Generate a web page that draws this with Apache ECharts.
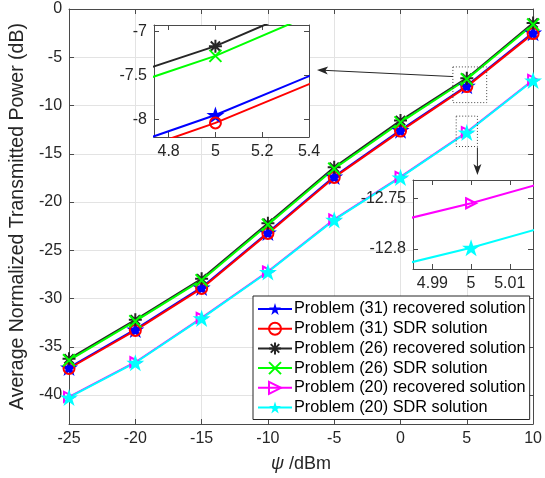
<!DOCTYPE html>
<html lang="en">
<head>
<meta charset="UTF-8">
<script src="https://cdn.jsdelivr.net/npm/echarts@6/dist/echarts.min.js"></script>
<style>
    html, body { margin: 0; padding: 0; background: #fff; }
    #main { width: 545px; height: 478px; }
</style>
<title>power vs psi</title>
</head>
<body>
<div id="main"></div>
<script type="text/javascript">
    // x values (dBm)
    var psi = [-25, -20, -15, -10, -5, 0, 5, 10];
    // series values (dB)
    var p31Rec = [-37.15, -33.2, -28.85, -23.15, -17.35, -12.55, -7.95, -2.45];
    var p31Sdr = [-37.25, -33.3, -28.95, -23.25, -17.45, -12.65, -8.04, -2.55];
    var p26Rec = [-36.25, -32.2, -27.95, -22.2, -16.4, -11.55, -7.17, -1.45];
    var p26Sdr = [-36.4, -32.35, -28.1, -22.35, -16.55, -11.75, -7.28, -1.6];
    var p20Rec = [-40.2, -36.6, -32.0, -27.2, -21.8, -17.4, -12.755, -7.35];
    var p20Sdr = [-40.25, -36.65, -32.05, -27.25, -21.85, -17.45, -12.799, -7.4];
    var names = ['Problem (31) recovered solution', 'Problem (31) SDR solution',
        'Problem (26) recovered solution', 'Problem (26) SDR solution',
        'Problem (20) recovered solution', 'Problem (20) SDR solution'];
    // tick labels
    var xTicks = [-25, -20, -15, -10, -5, 0, 5, 10];
    var yTicks = [-40, -35, -30, -25, -20, -15, -10, -5, 0];
    var in1XTicks = [4.8, 5, 5.2, 5.4];
    var in1YTicks = [-8, -7.5, -7];
    var in2XTicks = [4.99, 5, 5.01];
    var in2YTicks = [-12.8, -12.75];
    // zoom boxes in main data units [x0, x1, yTop, yBottom]
    var box1 = [3.95, 6.5, -6.0, -9.7];
    var box2 = [4.2, 5.8, -11.1, -14.25];

    var FONT = 'Liberation Sans';
    var AX = '#4a4a4a';
    var STAR = 'path://M50,0L61.2,34.5L97.6,34.5L68.2,55.9L79.4,90.5L50,69.1L20.6,90.5L31.8,55.9L2.4,34.5L38.8,34.5Z';
    var ASTER = 'path://M10,0L10,20M0,10L20,10M2.9,2.9L17.1,17.1M17.1,2.9L2.9,17.1';
    var CROSS = 'path://M0,0L20,20M20,0L0,20';
    var TRI = 'path://M0,0L20,10L0,20Z';

    var styles = [
        {color: '#0000ff', symbol: STAR, size: 18, filled: true},
        {color: '#ff0000', symbol: 'circle', size: 11, filled: false},
        {color: '#262626', symbol: ASTER, size: 13, filled: false},
        {color: '#00ff00', symbol: CROSS, size: 12, filled: false},
        {color: '#ff00ff', symbol: TRI, size: 10, filled: false},
        {color: '#00ffff', symbol: STAR, size: 18, filled: true}
    ];
    var values = [p31Rec, p31Sdr, p26Rec, p26Sdr, p20Rec, p20Sdr];

    function pairs(ys) {
        var out = [];
        for (var i = 0; i < psi.length; i++) out.push([psi[i], ys[i]]);
        return out;
    }

    function makeSeries(k, axisIdx, zl) {
        var s = styles[k];
        var item = s.filled ? {color: s.color} :
            {color: 'rgba(0,0,0,0)', borderColor: s.color, borderWidth: 2};
        return {
            name: names[k],
            type: 'line',
            xAxisIndex: axisIdx,
            yAxisIndex: axisIdx,
            zlevel: zl,
            data: pairs(values[k]),
            symbol: s.symbol,
            symbolSize: s.size,
            symbolKeepAspect: true,
            showAllSymbol: true,
            lineStyle: {color: s.color, width: 2},
            itemStyle: item,
            emphasis: {disabled: true},
            clip: true
        };
    }

    function boxAxis(pos, grid, min, max, ticks, showLabel, zl, extra) {
        var a = {
            type: 'value',
            gridIndex: grid,
            position: pos,
            min: min,
            max: max,
            zlevel: zl,
            axisLine: {show: true, onZero: false, lineStyle: {color: AX, width: 1}},
            axisTick: {show: true, inside: true, length: 5, customValues: ticks, lineStyle: {color: AX}},
            axisLabel: {show: showLabel, customValues: ticks, fontSize: 16, fontFamily: FONT, color: '#262626', margin: 7},
            splitLine: {show: false}
        };
        for (var key in extra) a[key] = extra[key];
        return a;
    }

    var chartDom = document.getElementById('main');
    var myChart = echarts.init(chartDom, null, {renderer: 'canvas'});

    var series = [];
    for (var k = 0; k < 6; k++) series.push(makeSeries(k, 0, 0));
    for (var k = 0; k < 4; k++) series.push(makeSeries(k, 2, 1));
    for (var k = 4; k < 6; k++) series.push(makeSeries(k, 4, 1));

    var option = {
        animation: false,
        backgroundColor: '#fff',
        grid: [
            {left: 59, top: 9, width: 479, height: 419, show: false},
            {left: 154, top: 25, width: 155, height: 112, show: true, backgroundColor: '#fff', borderWidth: 0, zlevel: 1},
            {left: 413, top: 180, width: 120, height: 89, show: true, backgroundColor: '#fff', borderWidth: 0, zlevel: 1}
        ],
        xAxis: [
            boxAxis('bottom', 0, -25, 10, xTicks, true, 0, {
                splitLine: {show: true, lineStyle: {color: '#e3e3e3'}},
                interval: 5,
                name: '{i|ψ} /dBm', nameLocation: 'middle', nameGap: 31,
                nameTextStyle: {fontSize: 18, fontFamily: FONT, color: '#262626',
                    rich: {i: {fontStyle: 'italic', fontSize: 18, fontFamily: FONT, color: '#262626'}}}
            }),
            boxAxis('top', 0, -25, 10, xTicks, false, 0, {interval: 5}),
            boxAxis('bottom', 1, 4.7375, 5.4, in1XTicks, true, 1, {}),
            boxAxis('top', 1, 4.7375, 5.4, in1XTicks, false, 1, {}),
            boxAxis('bottom', 2, 4.985, 5.016, in2XTicks, true, 1, {}),
            boxAxis('top', 2, 4.985, 5.016, in2XTicks, false, 1, {})
        ],
        yAxis: [
            boxAxis('left', 0, -43, 0, yTicks, true, 0, {
                splitNumber: 9,
                splitLine: {show: true, lineStyle: {color: '#e3e3e3'}},
                name: 'Average Normalized Transmitted Power (dB)', nameLocation: 'middle', nameGap: 37,
                nameTextStyle: {fontSize: 19.5, fontFamily: FONT, color: '#262626'}
            }),
            boxAxis('right', 0, -43, 0, yTicks, false, 0, {splitNumber: 9}),
            boxAxis('left', 1, -8.2, -6.93, in1YTicks, true, 1, {}),
            boxAxis('right', 1, -8.2, -6.93, in1YTicks, false, 1, {}),
            boxAxis('left', 2, -12.82, -12.732, in2YTicks, true, 1, {}),
            boxAxis('right', 2, -12.82, -12.732, in2YTicks, false, 1, {})
        ],
        legend: {
            orient: 'vertical',
            left: 253,
            top: 296,
            padding: [5, 4, 4, 4],
            itemWidth: 34,
            itemHeight: 15,
            itemGap: 3.7,
            backgroundColor: '#fff',
            borderColor: '#262626',
            borderWidth: 1,
            z: 10,
            textStyle: {fontSize: 16.3, fontFamily: FONT, color: '#000', padding: [0, 0, 0, -3]},
            data: names
        },
        series: series
    };
    option && myChart.setOption(option);

    // zoom boxes and arrows, placed through the chart's own scales
    function arrow(a, b) {
        var dx = b[0] - a[0], dy = b[1] - a[1];
        var L = Math.sqrt(dx * dx + dy * dy), ux = dx / L, uy = dy / L, px = -uy, py = ux;
        var hl = 11, hw = 4;
        return [
            {type: 'line', zlevel: 1, z: 100, shape: {x1: a[0], y1: a[1], x2: b[0] - ux * 5, y2: b[1] - uy * 5},
                style: {stroke: '#262626', lineWidth: 1}},
            {type: 'polygon', zlevel: 1, z: 100, shape: {points: [
                [b[0], b[1]],
                [b[0] - ux * hl + px * hw, b[1] - uy * hl + py * hw],
                [b[0] - ux * hl * 0.75, b[1] - uy * hl * 0.75],
                [b[0] - ux * hl - px * hw, b[1] - uy * hl - py * hw]
            ]}, style: {fill: '#262626'}}
        ];
    }
    function dottedBox(b) {
        var p0 = myChart.convertToPixel({gridIndex: 0}, [b[0], b[2]]);
        var p1 = myChart.convertToPixel({gridIndex: 0}, [b[1], b[3]]);
        return {type: 'rect', z: 100, shape: {x: p0[0], y: p0[1], width: p1[0] - p0[0], height: p1[1] - p0[1]},
            style: {fill: null, stroke: '#444', lineWidth: 1, lineDash: [1, 2]}};
    }
    var b1a = myChart.convertToPixel({gridIndex: 0}, [box1[0], -7.0]);
    var in1R = myChart.convertToPixel({gridIndex: 1}, [5.4, -7.44]);
    var b2a = myChart.convertToPixel({gridIndex: 0}, [box2[1], box2[3]]);
    var in2T = myChart.convertToPixel({gridIndex: 2}, [5.0026, -12.732]);
    var els = [dottedBox(box1), dottedBox(box2)];
    els = els.concat(arrow(b1a, [in1R[0] + 8, in1R[1]]));
    els = els.concat(arrow([b2a[0], b2a[1] + 1], [b2a[0], in2T[1] - 5]));
    myChart.setOption({graphic: {elements: els}});
</script>
</body>
</html>
